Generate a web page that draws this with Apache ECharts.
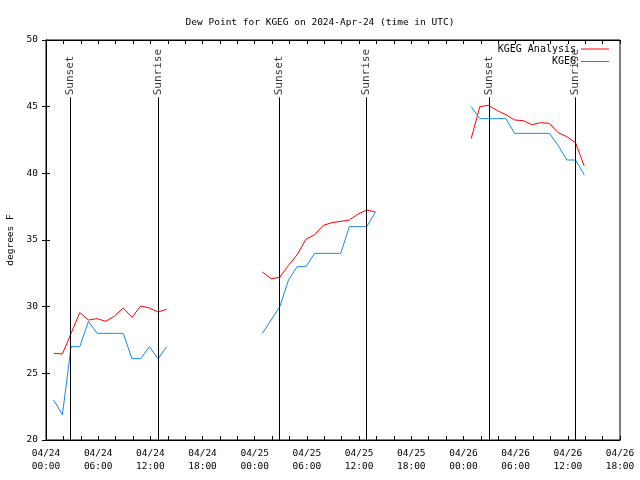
<!DOCTYPE html>
<html>
<head>
<meta charset="utf-8">
<script src="https://cdn.jsdelivr.net/npm/echarts@6/dist/echarts.min.js"></script>
<style>html,body{margin:0;padding:0;background:#fff}#c{width:640px;height:480px}</style>
</head>
<body>
<div id="c"></div>
<script>
// ---- data (times in UTC) ----
const seg1Times = ['2024-04-24 00:53','2024-04-24 01:53','2024-04-24 02:53','2024-04-24 03:53','2024-04-24 04:53','2024-04-24 05:53','2024-04-24 06:53','2024-04-24 07:53','2024-04-24 08:53','2024-04-24 09:53','2024-04-24 10:53','2024-04-24 11:53','2024-04-24 12:53','2024-04-24 13:53'];
const seg2Times = ['2024-04-25 00:53','2024-04-25 01:53','2024-04-25 02:53','2024-04-25 03:53','2024-04-25 04:53','2024-04-25 05:53','2024-04-25 06:53','2024-04-25 07:53','2024-04-25 08:53','2024-04-25 09:53','2024-04-25 10:53','2024-04-25 11:53','2024-04-25 12:53','2024-04-25 13:53'];
const seg3Times = ['2024-04-26 00:53','2024-04-26 01:53','2024-04-26 02:53','2024-04-26 03:53','2024-04-26 04:53','2024-04-26 05:53','2024-04-26 06:53','2024-04-26 07:53','2024-04-26 08:53','2024-04-26 09:53','2024-04-26 10:53','2024-04-26 11:53','2024-04-26 12:53','2024-04-26 13:53'];

const analysis1 = [26.5, 26.45, 28.0, 29.55, 29.0, 29.1, 28.9, 29.3, 29.9, 29.2, 30.05, 29.9, 29.6, 29.8];
const analysis2 = [32.6, 32.1, 32.2, 33.1, 33.9, 35.05, 35.4, 36.1, 36.3, 36.4, 36.5, 36.95, 37.25, 37.1];
const analysis3 = [42.6, 45.0, 45.1, 44.7, 44.4, 44.0, 43.95, 43.65, 43.8, 43.75, 43.05, 42.75, 42.3, 40.55];

const obs1 = [23.0, 21.9, 27.0, 27.0, 28.9, 28.0, 28.0, 28.0, 28.0, 26.1, 26.1, 27.0, 26.1, 27.0];
const obs2 = [28.0, 29.0, 30.0, 32.0, 33.0, 33.0, 34.0, 34.0, 34.0, 34.0, 36.0, 36.0, 36.0, 37.1];
const obs3 = [45.0, 44.1, 44.1, 44.1, 44.1, 43.0, 43.0, 43.0, 43.0, 43.0, 42.1, 41.0, 41.0, 39.9];

const sunEvents = [
  ['2024-04-24 02:47', 'Sunset'],
  ['2024-04-24 12:55', 'Sunrise'],
  ['2024-04-25 02:50', 'Sunset'],
  ['2024-04-25 12:50', 'Sunrise'],
  ['2024-04-26 02:56', 'Sunset'],
  ['2024-04-26 12:52', 'Sunrise']
];

const seriesNames = ['KGEG Analysis', 'KGEG'];
const axisStart = '2024-04-24 00:00';
const axisHours = 66;
const yMin = 20, yMax = 50, yStep = 5;
const sunLineTop = 45.7;
const sunLabelBase = 45.85;

// ---- helpers ----
function toMs(s) {
  const [d, t] = s.split(' ');
  const [Y, M, D] = d.split('-').map(Number);
  const [h, m] = t.split(':').map(Number);
  return Date.UTC(Y, M - 1, D, h, m);
}
const t0 = toMs(axisStart);
function hrs(s) { return (toMs(s) - t0) / 3600000; }
function pairs(times, vals) { return times.map((t, i) => [hrs(t), vals[i]]); }
function joinSegs(list) {
  const out = [];
  list.forEach((seg, i) => {
    if (i > 0) out.push([seg[0][0] - 0.5, '-']);
    seg.forEach(p => out.push(p));
  });
  return out;
}
const pad = n => (n < 10 ? '0' : '') + n;

const analysisData = joinSegs([pairs(seg1Times, analysis1), pairs(seg2Times, analysis2), pairs(seg3Times, analysis3)]);
const obsData = joinSegs([pairs(seg1Times, obs1), pairs(seg2Times, obs2), pairs(seg3Times, obs3)]);

const FONT = 'DejaVu Sans Mono';
const tickStyle = { inside: true, length: 4, lineStyle: { color: '#000', width: 1 } };

const chart = echarts.init(document.getElementById('c'), null, { renderer: 'canvas' });
chart.setOption({
  animation: false,
  backgroundColor: '#fff',
  title: {
    text: 'Dew Point for KGEG on 2024-Apr-24 (time in UTC)',
    left: 'center', top: 13,
    textStyle: { fontFamily: FONT, fontSize: 9.5, fontWeight: 'normal', color: '#000' }
  },
  legend: {
    data: seriesNames,
    orient: 'vertical',
    right: 31, top: 43,
    align: 'right',
    icon: 'rect',
    itemWidth: 28, itemHeight: 1, itemGap: 0.5,
    textStyle: { fontFamily: FONT, fontSize: 10, color: '#000', lineHeight: 12, padding: [0, 0, 0, 0] },
    padding: 0,
    inactiveColor: '#ccc'
  },
  grid: { left: 46, right: 20, top: 40, bottom: 40, show: true, borderColor: '#000', borderWidth: 1, backgroundColor: 'transparent', containLabel: false, outerBoundsMode: 'none' },
  xAxis: [
    {
      type: 'value', min: 0, max: axisHours, interval: 2,
      axisLine: { show: true, lineStyle: { color: '#000' } },
      axisTick: tickStyle,
      splitLine: { show: false },
      axisLabel: {
        fontFamily: FONT, fontSize: 9.5, color: '#000', lineHeight: 13, margin: 7,
        showMinLabel: true, showMaxLabel: true,
        formatter: v => {
          if (v % 6 !== 0) return '';
          const day = 24 + Math.floor(v / 24);
          return '04/' + day + '\n' + pad(v % 24) + ':00';
        }
      }
    },
    {
      type: 'value', min: 0, max: axisHours, interval: 2, position: 'top',
      axisLine: { show: true, lineStyle: { color: '#000' } },
      axisTick: tickStyle, axisLabel: { show: false }, splitLine: { show: false }
    }
  ],
  yAxis: [
    {
      type: 'value', min: yMin, max: yMax, interval: yStep,
      name: 'degrees F', nameLocation: 'middle', nameGap: 24.5, nameRotate: 90,
      nameTextStyle: { fontFamily: FONT, fontSize: 9.5, color: '#000' },
      axisLine: { show: true, lineStyle: { color: '#000' } },
      axisTick: tickStyle, splitLine: { show: false },
      axisLabel: { fontFamily: FONT, fontSize: 9.5, color: '#000', margin: 8 }
    },
    {
      type: 'value', min: yMin, max: yMax, interval: yStep, position: 'right',
      axisLine: { show: true, lineStyle: { color: '#000' } },
      axisTick: tickStyle, axisLabel: { show: false }, splitLine: { show: false }
    }
  ],
  series: [
    {
      name: 'sunlines', type: 'line', data: [], silent: true,
      markLine: {
        silent: true, symbol: ['none', 'none'], animation: false,
        lineStyle: { color: '#000', width: 1, type: 'solid' },
        label: { show: false },
        data: sunEvents.map(e => [{ coord: [hrs(e[0]), yMin] }, { coord: [hrs(e[0]), sunLineTop] }])
      }
    },
    {
      name: 'sunlabels', type: 'scatter', silent: true,
      symbolSize: 1, itemStyle: { color: 'rgba(0,0,0,0)' },
      data: sunEvents.map(e => [hrs(e[0]), sunLabelBase, e[1]]),
      label: {
        show: true, position: 'inside', rotate: 90, align: 'left', verticalAlign: 'middle',
        fontFamily: FONT, fontSize: 11, color: '#000',
        formatter: p => p.data[2]
      }
    },
    {
      name: seriesNames[0], type: 'line', data: analysisData,
      symbol: 'none', showSymbol: false, connectNulls: false,
      lineStyle: { color: '#ff0000', width: 1 }, itemStyle: { color: '#ff0000' }
    },
    {
      name: seriesNames[1], type: 'line', data: obsData,
      symbol: 'none', showSymbol: false, connectNulls: false,
      lineStyle: { color: '#1588ee', width: 1 }, itemStyle: { color: '#1588ee' }
    }
  ]
});
</script>
</body>
</html>
